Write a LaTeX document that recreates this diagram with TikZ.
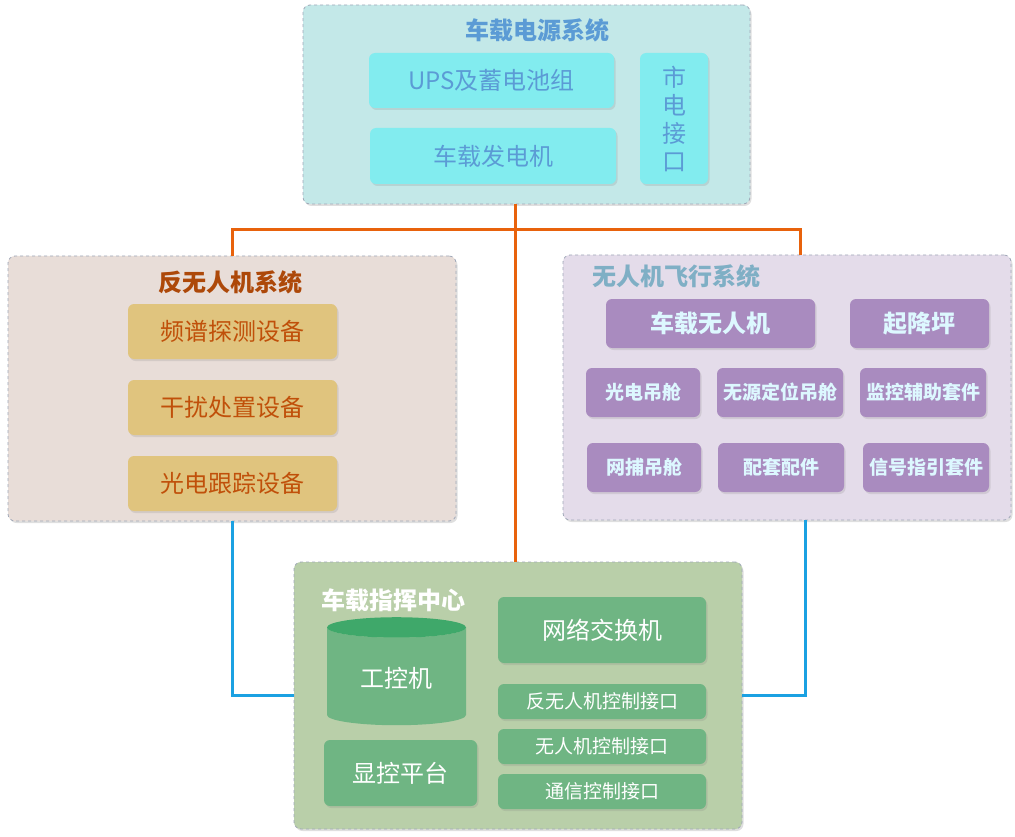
\documentclass[tikz,border=0pt]{standalone}
\usepackage{fontspec}
\setmainfont{Noto Sans CJK SC}
\usepackage{tikz}
\usetikzlibrary{shapes.geometric}
\usetikzlibrary{shadows}

\definecolor{powerbg}{HTML}{C3E8E8}
\definecolor{powerbox}{HTML}{82ECEF}
\definecolor{powertext}{HTML}{5B9BD5}
\definecolor{antibg}{HTML}{E8DDD8}
\definecolor{antibox}{HTML}{E0C47E}
\definecolor{antitext}{HTML}{C0500A}
\definecolor{uavbg}{HTML}{E4DCEA}
\definecolor{uavbox}{HTML}{A98BBF}
\definecolor{uavtext}{HTML}{DDF8FF}
\definecolor{uavtitle}{HTML}{7FAFC5}
\definecolor{cmdbg}{HTML}{B9CFA9}
\definecolor{cmdbox}{HTML}{6FB583}
\definecolor{cmdtop}{HTML}{3FA86A}
\definecolor{groupline}{HTML}{A0A8B8}
\definecolor{powerwire}{HTML}{E8620C}
\definecolor{datawire}{HTML}{1BA1E2}

\tikzset{
  boxsize/.style 2 args={minimum width=#1pt, minimum height=#2pt},
  group/.style={draw=groupline, dashed, line width=0.8pt, rounded corners=7pt,
    drop shadow={opacity=0.25, shadow xshift=1.5pt, shadow yshift=-2pt}},
  item/.style={rounded corners=6pt, inner sep=0pt,
    drop shadow={opacity=0.2, shadow xshift=1.5pt, shadow yshift=-2pt}},
  title/.style={font=\fontsize{24}{28}\selectfont\bfseries},
  big/.style={font=\fontsize{24}{28}\selectfont},
  small/.style={font=\fontsize{19}{23}\selectfont},
  powerline/.style={draw=powerwire, line width=3pt},
  dataline/.style={draw=datawire, line width=3pt},
}

\begin{document}
\begin{tikzpicture}[x=1pt, y=-1pt]
\useasboundingbox (0,0) rectangle (1015,837);

% power supply
\node[group, fill=powerbg, boxsize={447}{199}] (power) at (526.5,104.5) {};
\node[title, text=powertext] (powertitle) at (537,30) {车载电源系统};
\node[item, fill=powerbox, text=powertext, big, boxsize={245}{55}] (ups) at (491.5,80.5) {UPS及蓄电池组};
\node[item, fill=powerbox, text=powertext, big, boxsize={246}{56}] (gen) at (493,156) {车载发电机};
\node[item, fill=powerbox, text=powertext, boxsize={68}{131}, align=center,
  font=\fontsize{24}{28}\selectfont] (mains) at (674,118.5) {市\\电\\接\\口};

% anti-uav
\node[group, fill=antibg, boxsize={448}{265}] (antiuav) at (232,388.5) {};
\node[title, text=antitext!90!black] (antititle) at (230,282) {反无人机系统};
\foreach \name/\txt [count=\i] in {detect/频谱探测设备, jam/干扰处置设备, track/光电跟踪设备}
  \node[item, fill=antibox, text=antitext, big, boxsize={209}{55}] (\name) at (232.5,255.5+76*\i) {\txt};

% uav flight
\node[group, fill=uavbg, boxsize={448}{265}] (uavsys) at (787,387.5) {};
\node[title, text=uavtitle] (uavsystitle) at (676.5,276) {无人机飞行系统};
\tikzset{uavitem/.style={item, fill=uavbox, text=uavtext, font=\fontsize{19}{23}\selectfont\bfseries},
  uavbig/.style={uavitem, font=\fontsize{24}{28}\selectfont\bfseries}}
\node[uavbig, boxsize={209}{49}] (drone) at (710.5,323.5) {车载无人机};
\node[uavbig, boxsize={139}{49}] (pad) at (919.5,323.5) {起降坪};
\node[uavitem, boxsize={114}{49}] (eopod) at (643,392.5) {光电吊舱};
\node[uavitem, boxsize={126}{49}] (pospod) at (780,392.5) {无源定位吊舱};
\node[uavitem, boxsize={126}{49}] (monkit) at (923,392.5) {监控辅助套件};
\node[uavitem, boxsize={114}{49}] (netpod) at (644,467.5) {网捕吊舱};
\node[uavitem, boxsize={126}{49}] (parts) at (781,467.5) {配套配件};
\node[uavitem, boxsize={126}{49}] (sigkit) at (926,467.5) {信号指引套件};

% command center
\node[group, fill=cmdbg, boxsize={448}{267}] (center) at (518,695.5) {};
\node[title, text=white] (centertitle) at (393,600) {车载指挥中心};
\node[cylinder, shape border rotate=90, aspect=0.26, cylinder uses custom fill,
  cylinder body fill=cmdbox, cylinder end fill=cmdtop, text=white, big,
  boxsize={139}{108}] (ipc) at (396.5,678) {工控机};
\node[item, fill=cmdbox, text=white, big, boxsize={153}{66}] (display) at (400.5,773) {显控平台};
\node[item, fill=cmdbox, text=white, big, boxsize={208}{66}] (switch) at (602,630) {网络交换机};
\node[item, fill=cmdbox, text=white, small, boxsize={208}{35}] (antiport) at (602,701.5) {反无人机控制接口};
\node[item, fill=cmdbox, text=white, small, boxsize={208}{35}] (uavport) at (602,746.5) {无人机控制接口};
\node[item, fill=cmdbox, text=white, small, boxsize={208}{35}] (comport) at (602,791.5) {通信控制接口};

% connectors
\coordinate (tap) at (515,204);
\coordinate (busR) at (800,230);
\coordinate (uavout) at (805,520);
\draw[powerline] (tap) -- (tap |- center.north);
\draw[powerline] (antiuav.north) |- (busR) -- (busR |- uavsys.north);
\draw[dataline] (antiuav.south) |- (center.west);
\draw[dataline] (uavout) |- (center.east);
\end{tikzpicture}
\end{document}
